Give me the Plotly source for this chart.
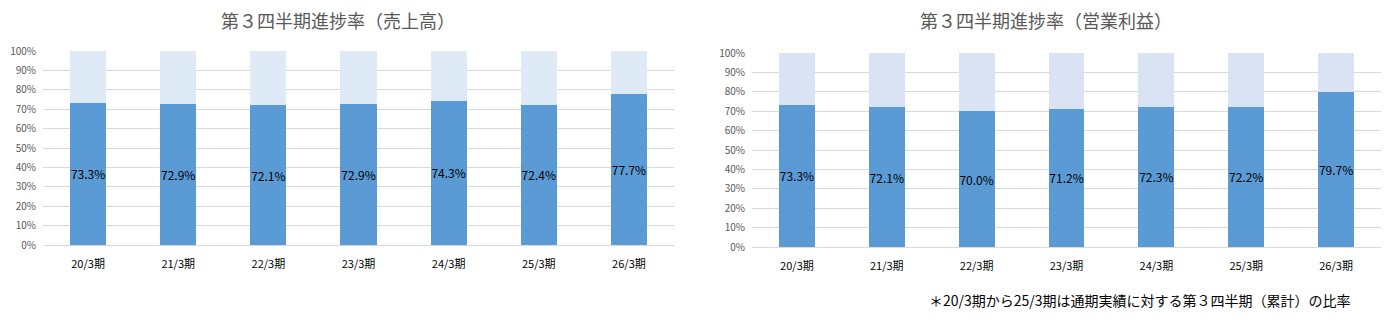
import plotly.graph_objects as go

categories = ["20/3期", "21/3期", "22/3期", "23/3期", "24/3期", "25/3期", "26/3期"]
sales_progress = [73.3, 72.9, 72.1, 72.9, 74.3, 72.4, 77.7]
op_progress = [73.3, 72.1, 70.0, 71.2, 72.3, 72.2, 79.7]
title_left = "第３四半期進捗率（売上高）"
title_right = "第３四半期進捗率（営業利益）"
footnote = "＊20/3期から25/3期は通期実績に対する第３四半期（累計）の比率"

W, H = 1396, 322
FONT = "Noto Sans CJK JP"
DARK = "#5B9BD5"

fig = go.Figure()

def add_pair(vals, light, xa, ya):
    fig.add_trace(go.Bar(
        x=categories, y=vals, xaxis=xa, yaxis=ya, marker_color=DARK,
        marker_line_width=0,
        texttemplate="%{y:.1f}%", textposition="inside", insidetextanchor="middle",
        textangle=0, constraintext="none",
        textfont=dict(color="#000000", size=12, family=FONT),
        hoverinfo="skip", showlegend=False))
    fig.add_trace(go.Bar(
        x=categories, y=[round(100 - v, 1) for v in vals], xaxis=xa, yaxis=ya,
        marker_color=light, marker_line_width=0, hoverinfo="skip", showlegend=False))

add_pair(sales_progress, "#DEEBF7", "x", "y")
add_pair(op_progress, "#DAE3F3", "x2", "y2")

def px(x):
    return x / W

def py(y):
    return (H - y) / H

yaxis_common = dict(range=[0, 100], dtick=10, ticksuffix="%", showgrid=True,
                    gridcolor="#D9D9D9", gridwidth=1, zeroline=False, showline=False,
                    ticks="", tickfont=dict(size=10, color="#595959", family=FONT),
                    ticklabelstandoff=6, fixedrange=True, automargin=False)
xaxis_common = dict(showgrid=False, zeroline=False, showline=True, linecolor="#D9D9D9",
                    linewidth=1, ticks="", tickfont=dict(size=11, color="#000000", family=FONT),
                    ticklabelstandoff=9, fixedrange=True, automargin=False)

fig.update_layout(
    width=W, height=H, margin=dict(l=0, r=0, t=0, b=0, pad=0, autoexpand=False),
    paper_bgcolor="white", plot_bgcolor="white",
    barmode="stack", bargap=0.6,
    font=dict(family=FONT),
    xaxis=dict(domain=[px(43), px(674)], anchor="y", **xaxis_common),
    yaxis=dict(domain=[py(245), py(51)], anchor="x", **yaxis_common),
    xaxis2=dict(domain=[px(752), px(1381)], anchor="y2", **xaxis_common),
    yaxis2=dict(domain=[py(247), py(53)], anchor="x2", **yaxis_common),
    annotations=[
        dict(text=title_left, x=px(338), y=py(20), xref="paper", yref="paper",
             showarrow=False, xanchor="center", yanchor="middle",
             font=dict(size=18, color="#595959", family=FONT)),
        dict(text=title_right, x=px(1046), y=py(20), xref="paper", yref="paper",
             showarrow=False, xanchor="center", yanchor="middle",
             font=dict(size=18, color="#595959", family=FONT)),
        dict(text=footnote, x=px(1353), y=py(300), xref="paper", yref="paper",
             showarrow=False, xanchor="right", yanchor="middle",
             font=dict(size=14, color="#000000", family=FONT)),
    ],
)

fig.write_html(
    "out.html",
    post_script="document.documentElement.style.margin='0';document.body.style.margin='0';"
                "document.body.style.padding='0';document.body.style.overflow='hidden';",
)
